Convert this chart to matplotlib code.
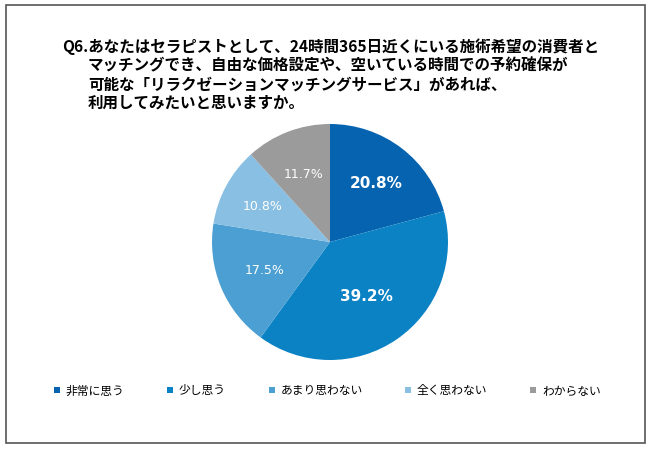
import matplotlib.pyplot as plt
from matplotlib.patches import Rectangle
import numpy as np

plt.rcParams['font.family'] = ['Noto Sans CJK JP', 'DejaVu Sans']

categories = ['非常に思う', '少し思う', 'あまり思わない', '全く思わない', 'わからない']
values = [20.8, 39.2, 17.5, 10.8, 11.7]
colors = ['#0563b0', '#0a82c4', '#4b9fd2', '#88bfe2', '#9b9b9b']

title_lines = ['Q6.あなたはセラピストとして、24時間365日近くにいる施術希望の消費者と',
               'マッチングでき、自由な価格設定や、空いている時間での予約確保が',
               '可能な「リラクゼーションマッチングサービス」があれば、',
               '利用してみたいと思いますか。']

W, H = 650, 452
fig = plt.figure(figsize=(6.5, 4.52), dpi=100)

# border
fig.patches.append(Rectangle((6/W, 1-444/H), 639/W, 438/H, transform=fig.transFigure,
                             fill=False, edgecolor='#555555', linewidth=1.2))

# title
fig.text(62/W, 1-47/H, title_lines[0], fontsize=11.2, fontweight='bold', va='center')
for i, ln in enumerate(title_lines[1:]):
    fig.text(88/W, 1-(65.5+18.5*i)/H, ln, fontsize=11.2, fontweight='bold', va='center')

# pie
cx, cy, r = 330, 243, 118
ax = fig.add_axes([(cx-r)/W, 1-(cy+r)/H, 2*r/W, 2*r/H])
wedges, _ = ax.pie(values, colors=colors, startangle=90, counterclock=False, radius=1,
                   wedgeprops=dict(linewidth=0))
ax.set_xlim(-1, 1)
ax.set_ylim(-1, 1)
ax.set_aspect('auto')
ax.axis('off')

dists = [0.64, 0.55, 0.6, 0.65, 0.62]
for i, w in enumerate(wedges):
    ang = np.deg2rad((w.theta1 + w.theta2) / 2)
    big = values[i] > 20
    ax.text(dists[i]*np.cos(ang), dists[i]*np.sin(ang), f'{values[i]}%',
            ha='center', va='center', color='white',
            fontsize=11 if big else 9, fontweight='bold' if big else 'normal',
            family='DejaVu Sans')

# legend
leg_x = [57, 170, 272, 408, 533]
for x, c, lab in zip(leg_x, colors, categories):
    fig.patches.append(Rectangle(((x-3)/W, 1-(391+3)/H), 6/W, 6/H, transform=fig.transFigure,
                                 facecolor=c, edgecolor='none'))
    fig.text((x+9)/W, 1-391/H, lab, fontsize=8.5, va='center')

fig.savefig('out.png', dpi=100)
